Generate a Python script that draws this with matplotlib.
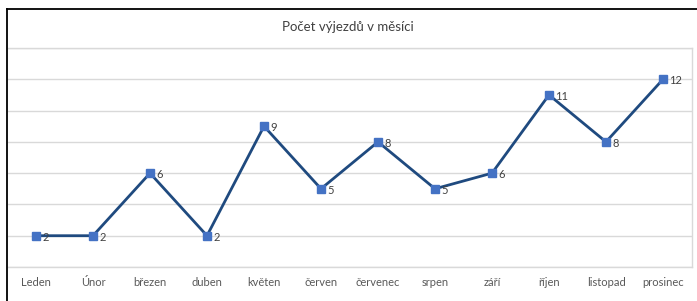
import matplotlib
matplotlib.use("Agg")
import matplotlib.pyplot as plt
from matplotlib.lines import Line2D

months = ["Leden", "Únor", "březen", "duben", "květen", "červen",
          "červenec", "srpen", "září", "říjen", "listopad", "prosinec"]
counts = [2, 2, 6, 2, 9, 5, 8, 5, 6, 11, 8, 12]
y_max = 14
y_step = 2
title = "Počet výjezdů v měsíci"

plt.rcParams['font.family'] = ['Lato', 'DejaVu Sans']

fig = plt.figure(figsize=(6.97, 3.01), dpi=100)
fig.patch.set_facecolor("white")
ax = fig.add_axes([7.5/697, (301-267)/301, (691.5-7.5)/697, (267-48)/301])

x = list(range(len(months)))
ax.plot(x, counts, color="#1F4A7F", lw=2.0, zorder=3,
        marker="s", markersize=6, markerfacecolor="#4472C4",
        markeredgecolor="#4472C4", solid_joinstyle="miter")
for xi, v in zip(x, counts):
    ax.annotate(str(v), (xi, v), xytext=(4.5, -1.2), textcoords="offset points",
                ha="left", va="center", fontsize=8, color="#404040", zorder=4)

ax.set_xlim(-0.5, len(months) - 0.5)
ax.set_ylim(0, y_max)
ax.set_yticks(range(0, y_max + 1, y_step))
ax.set_yticklabels([])
ax.tick_params(axis="y", length=0)
ax.set_xticks(x)
ax.set_xticklabels(months, fontsize=8, color="#595959")
ax.tick_params(axis="x", length=0, pad=7)
ax.grid(axis="y", color="#D9D9D9", lw=1)
ax.set_axisbelow(True)
for s in ["left"]:
    ax.spines[s].set_visible(False)
for s in ["right", "top", "bottom"]:
    ax.spines[s].set_color("#D9D9D9")
    ax.spines[s].set_linewidth(1)

fig.text(348/697, 1 - 27/301, title, ha="center", va="center",
         fontsize=9.5, color="#404040")

# black outer frame (left and top)
fig.add_artist(Line2D([7/697, 7/697], [0, 1 - 9/301], color="black", lw=1.3,
                      transform=fig.transFigure))
fig.add_artist(Line2D([7/697, 1], [1 - 9/301, 1 - 9/301], color="black", lw=1.3,
                      transform=fig.transFigure))

fig.savefig("out.png", dpi=100)
